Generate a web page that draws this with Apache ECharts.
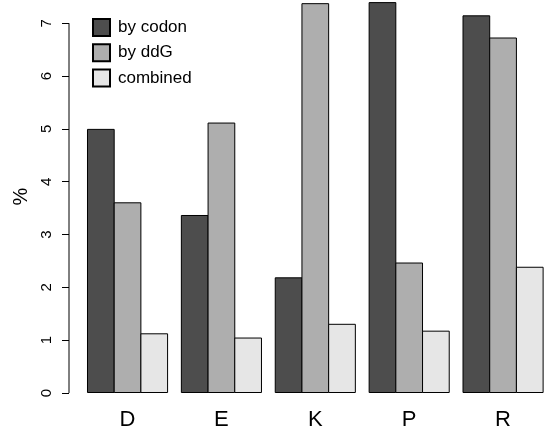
<!DOCTYPE html>
<html>
<head>
<meta charset="utf-8">
<script src="https://cdn.jsdelivr.net/npm/echarts@6/dist/echarts.min.js"></script>
<style>
  html, body { margin: 0; padding: 0; background: #fff; }
  #chart { width: 550px; height: 433px; }
</style>
</head>
<body>
<div id="chart"></div>
<script>
// values (%)
var residues = ['D', 'E', 'K', 'P', 'R'];
var byCodon = [5.00, 3.37, 2.19, 7.40, 7.15];
var byDdG = [3.61, 5.12, 7.38, 2.47, 6.73];
var combined = [1.13, 1.05, 1.31, 1.18, 2.39];
var yTicks = [0, 1, 2, 3, 4, 5, 6, 7];

var font = 'Liberation Sans, Arial, Helvetica, sans-serif';
var gridLeft = 80.6;
var axisOffset = 11.6;

function barSeries(name, data, color) {
  return {
    name: name,
    type: 'bar',
    data: data,
    barWidth: 27.7,
    barGap: '-3.6%', // neighbouring bars share one border, like R's barplot
    itemStyle: { color: color, borderColor: '#000', borderWidth: 1 },
    emphasis: { disabled: true }
  };
}

var chart = echarts.init(document.getElementById('chart'));
chart.setOption({
  animation: false,
  textStyle: { fontFamily: font },
  grid: { left: gridLeft, width: 477, top: 0, bottom: 40 },
  legend: {
    orient: 'vertical',
    left: 92,
    top: 18,
    icon: 'rect',
    itemWidth: 17,
    itemHeight: 17,
    itemGap: 6.3,
    padding: 0,
    textStyle: { fontSize: 17, color: '#000', fontFamily: font, padding: [0, 0, 0, 3] },
    data: ['by codon', 'by ddG', 'combined']
  },
  xAxis: {
    type: 'category',
    data: residues,
    axisLine: { show: false },
    axisTick: { show: false },
    axisLabel: { fontSize: 22, color: '#000', margin: 16, fontFamily: font }
  },
  yAxis: {
    type: 'value',
    min: 0,
    max: 7.44,
    offset: axisOffset,
    name: '%',
    nameLocation: 'middle',
    nameRotate: 90,
    nameGap: 35,
    nameTextStyle: { fontSize: 20, color: '#000', fontFamily: font },
    splitLine: { show: false },
    axisLine: { show: false },
    axisTick: { show: true, length: 7, customValues: yTicks, lineStyle: { color: '#000' } },
    axisLabel: {
      customValues: yTicks,
      rotate: 90,
      fontSize: 15,
      color: '#000',
      margin: 15,
      fontFamily: font
    }
  },
  series: [
    barSeries('by codon', byCodon, '#4D4D4D'),
    barSeries('by ddG', byDdG, '#AEAEAE'),
    barSeries('combined', combined, '#E6E6E6')
  ]
});

// R-style axis line running only from the first to the last tick
var x0 = gridLeft - axisOffset;
var yLow = chart.convertToPixel({ yAxisIndex: 0 }, yTicks[0]);
var yHigh = chart.convertToPixel({ yAxisIndex: 0 }, yTicks[yTicks.length - 1]);
chart.setOption({
  graphic: [{
    type: 'line',
    shape: { x1: x0, y1: yLow, x2: x0, y2: yHigh },
    style: { stroke: '#000', lineWidth: 1 }
  }]
});
</script>
</body>
</html>
